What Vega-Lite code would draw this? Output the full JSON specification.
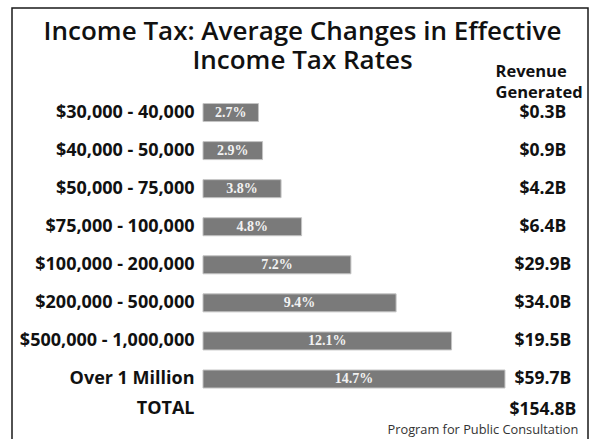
{
  "$schema": "https://vega.github.io/schema/vega-lite/v6.json",
  "width": 576,
  "height": 437,
  "autosize": {"type": "none"},
  "padding": {"left": 12, "top": 8, "right": 1, "bottom": 0},
  "background": "white",
  "config": {"view": {"stroke": "#1a1a1a", "strokeWidth": 1.5}, "font": "Open Sans"},
  "data": {
    "values": [
      {"income": "$30,000 - 40,000", "pct": 2.7, "rate": "2.7%", "revenue": "$0.3B"},
      {"income": "$40,000 - 50,000", "pct": 2.9, "rate": "2.9%", "revenue": "$0.9B"},
      {"income": "$50,000 - 75,000", "pct": 3.8, "rate": "3.8%", "revenue": "$4.2B"},
      {"income": "$75,000 - 100,000", "pct": 4.8, "rate": "4.8%", "revenue": "$6.4B"},
      {"income": "$100,000 - 200,000", "pct": 7.2, "rate": "7.2%", "revenue": "$29.9B"},
      {"income": "$200,000 - 500,000", "pct": 9.4, "rate": "9.4%", "revenue": "$34.0B"},
      {"income": "$500,000 - 1,000,000", "pct": 12.1, "rate": "12.1%", "revenue": "$19.5B"},
      {"income": "Over 1 Million", "pct": 14.7, "rate": "14.7%", "revenue": "$59.7B"},
      {"income": "TOTAL", "pct": null, "rate": null, "revenue": "$154.8B"}
    ]
  },
  "encoding": {
    "y": {
      "field": "income",
      "type": "nominal",
      "sort": null,
      "scale": {"paddingInner": 0, "paddingOuter": 0, "range": [85.5, 428.1], "round": false},
      "axis": {
        "title": null,
        "orient": "left",
        "offset": -191,
        "ticks": false,
        "domain": false,
        "grid": false,
        "labelPadding": 9,
        "labelFont": "Open Sans",
        "labelFontSize": 18,
        "labelFontWeight": "bold",
        "labelColor": "#111111",
        "labelAlign": "right",
        "labelBaseline": "middle",
        "labelLimit": 0,
        "labelOffset": {"condition": {"test": "datum.value === 'TOTAL'", "value": -8}, "value": 0}
      }
    }
  },
  "layer": [
    {
      "transform": [{"filter": "isValid(datum.pct)"}],
      "mark": {"type": "bar", "color": "#7a7a7a", "stroke": "#c4c4c4", "strokeWidth": 1, "size": 18},
      "encoding": {
        "x": {
          "field": "pct",
          "type": "quantitative",
          "scale": {"domain": [-9.297, 18.741], "nice": false, "zero": false},
          "axis": {
            "orient": "top",
            "title": ["Income Tax: Average Changes in Effective", "Income Tax Rates"],
            "titleFont": "Open Sans",
            "titleFontSize": 26,
            "titleFontWeight": 600,
            "titleColor": "#111111",
            "titleAlign": "center",
            "titleBaseline": "alphabetic",
            "titleX": 290,
            "titleY": 31,
            "titleLineHeight": 29,
            "labels": false,
            "ticks": false,
            "domain": false,
            "grid": false
          }
        },
        "x2": {"datum": 0}
      }
    },
    {
      "transform": [{"filter": "isValid(datum.pct)"}],
      "mark": {"type": "text", "font": "Liberation Serif", "fontWeight": "bold", "fontSize": 14, "color": "#f2f2f2", "align": "center", "baseline": "middle"},
      "encoding": {
        "x": {
          "field": "pct",
          "type": "quantitative",
          "scale": {"domain": [-18.594, 37.482], "nice": false, "zero": false},
          "axis": {
            "orient": "bottom",
            "title": "Program for Public Consultation",
            "titleFont": "Open Sans",
            "titleFontSize": 12.8,
            "titleFontWeight": "normal",
            "titleColor": "#333333",
            "titleAlign": "left",
            "titleBaseline": "alphabetic",
            "titleX": 375,
            "titleY": -12,
            "labels": false,
            "ticks": false,
            "domain": false,
            "grid": false
          }
        },
        "text": {"field": "rate", "type": "nominal"}
      }
    },
    {
      "transform": [{"filter": "datum.income !== 'TOTAL'"}],
      "mark": {"type": "text", "font": "Open Sans", "fontWeight": "bold", "fontSize": 17.5, "color": "#111111", "align": "center", "baseline": "middle"},
      "encoding": {
        "x": {
          "datum": 16.55,
          "type": "quantitative",
          "scale": {"domain": [-9.297, 18.741], "nice": false, "zero": false},
          "axis": {
            "orient": "top",
            "title": ["Revenue", "Generated"],
            "titleFont": "Open Sans",
            "titleFontSize": 16.5,
            "titleFontWeight": "bold",
            "titleColor": "#111111",
            "titleAlign": "left",
            "titleBaseline": "alphabetic",
            "titleX": 483,
            "titleY": 68,
            "titleLineHeight": 21,
            "labels": false,
            "ticks": false,
            "domain": false,
            "grid": false
          }
        },
        "text": {"field": "revenue", "type": "nominal"}
      }
    },
    {
      "transform": [{"filter": "datum.income === 'TOTAL'"}],
      "mark": {"type": "text", "font": "Open Sans", "fontWeight": "bold", "fontSize": 17.5, "color": "#111111", "align": "center", "baseline": "middle", "dy": -7},
      "encoding": {
        "x": {
          "datum": 16.55,
          "type": "quantitative",
          "scale": {"domain": [-9.297, 18.741], "nice": false, "zero": false},
          "axis": null
        },
        "text": {"field": "revenue", "type": "nominal"}
      }
    }
  ],
  "resolve": {"scale": {"x": "independent"}}
}
